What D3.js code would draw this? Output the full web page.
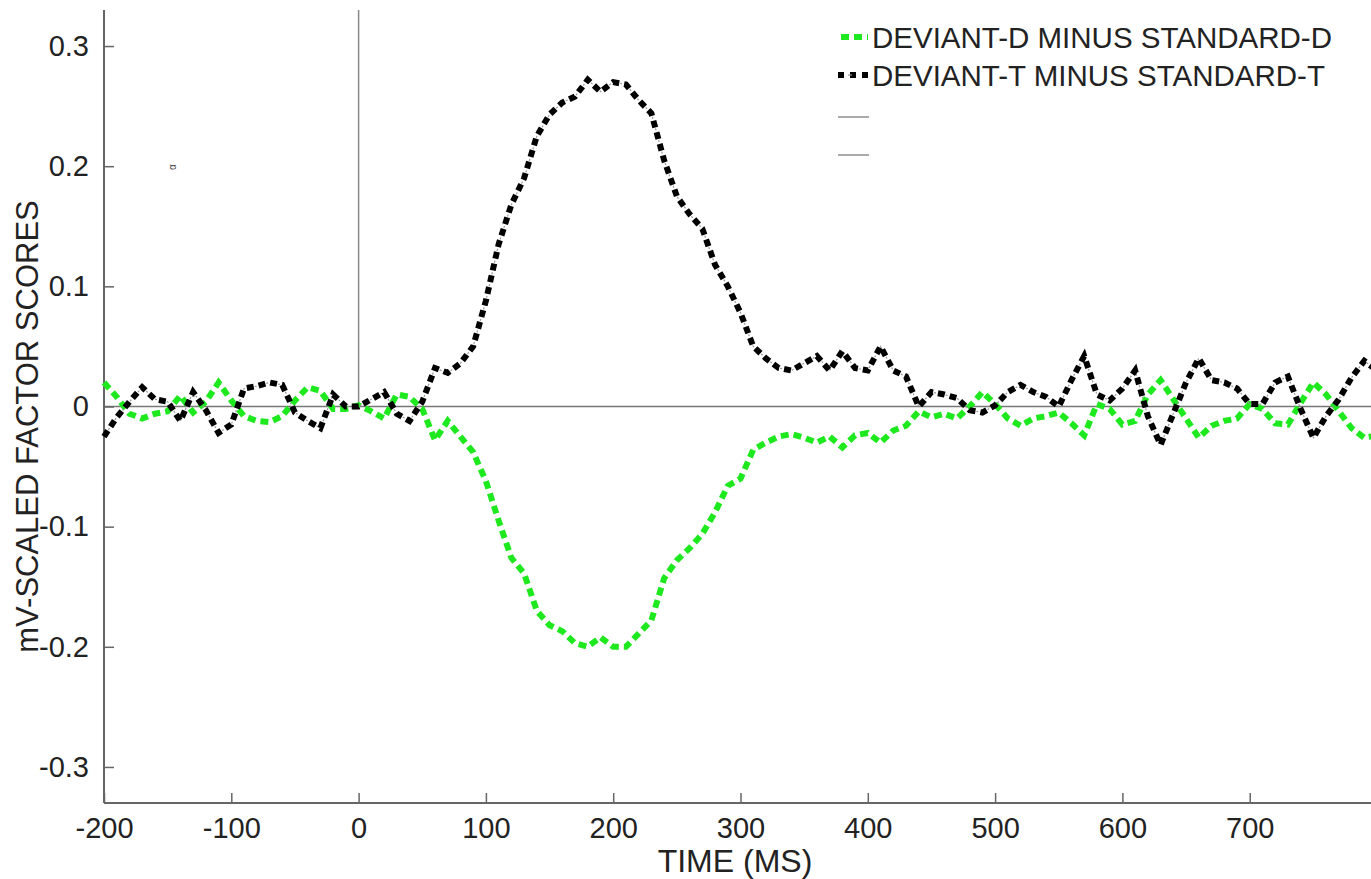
<!DOCTYPE html>
<html>
<head>
<meta charset="utf-8">
<script src="https://cdn.jsdelivr.net/npm/d3@7"></script>
<style>
  html, body { margin: 0; padding: 0; background: #fff; overflow: hidden; }
  svg { display: block; font-family: "Liberation Sans", Arial, Helvetica, sans-serif; }
</style>
</head>
<body>
<div id="chart"></div>
<script>
// ERP difference waves, sampled every 10 ms from -200 to 800 ms
const times = d3.range(-200, 801, 10);

const devDminusStdD = [
  0.020, 0.008, -0.006, -0.010, -0.006, -0.004, 0.009, -0.005, 0.004, 0.020,
  0.005, -0.008, -0.012, -0.013, -0.008, 0.005, 0.016, 0.013, -0.002, -0.002,
  0.001, -0.004, -0.010, 0.010, 0.008, -0.002, -0.028, -0.012, -0.025, -0.038,
  -0.062, -0.095, -0.126, -0.139, -0.170, -0.182, -0.187, -0.197, -0.200, -0.192,
  -0.200, -0.200, -0.189, -0.178, -0.143, -0.128, -0.118, -0.106, -0.088, -0.066,
  -0.060, -0.036, -0.030, -0.025, -0.023, -0.026, -0.030, -0.025, -0.034, -0.024,
  -0.022, -0.030, -0.020, -0.016, -0.004, -0.009, -0.006, -0.010, 0.000, 0.012,
  0.002, -0.010, -0.016, -0.010, -0.008, -0.005, -0.014, -0.024, 0.002, -0.002,
  -0.015, -0.012, 0.010, 0.022, 0.006, -0.010, -0.026, -0.016, -0.012, -0.010,
  0.002, -0.002, -0.014, -0.015, 0.003, 0.020, 0.010, -0.004, -0.018, -0.026,
  -0.024
];

const devTminusStdT = [
  -0.025, -0.009, 0.004, 0.016, 0.006, 0.004, -0.012, 0.012, -0.003, -0.022,
  -0.015, 0.015, 0.017, 0.020, 0.018, -0.005, -0.012, -0.018, 0.010, 0.000,
  0.000, 0.006, 0.012, -0.006, -0.012, 0.004, 0.032, 0.028, 0.036, 0.050,
  0.088, 0.135, 0.168, 0.190, 0.225, 0.243, 0.253, 0.258, 0.272, 0.262,
  0.270, 0.268, 0.255, 0.244, 0.205, 0.175, 0.160, 0.148, 0.118, 0.100,
  0.078, 0.050, 0.040, 0.032, 0.030, 0.036, 0.042, 0.030, 0.046, 0.032,
  0.030, 0.050, 0.030, 0.025, 0.000, 0.012, 0.010, 0.007, -0.003, -0.005,
  0.001, 0.012, 0.018, 0.012, 0.008, 0.000, 0.022, 0.042, 0.010, 0.005,
  0.015, 0.030, -0.008, -0.032, -0.006, 0.020, 0.040, 0.022, 0.020, 0.015,
  0.002, 0.002, 0.020, 0.025, -0.002, -0.026, -0.008, 0.006, 0.024, 0.038,
  0.030
];

const xTicks = [-200, -100, 0, 100, 200, 300, 400, 500, 600, 700];
const yTicks = [-0.3, -0.2, -0.1, 0, 0.1, 0.2, 0.3];
const legendLabels = ['DEVIANT-D MINUS STANDARD-D', 'DEVIANT-T MINUS STANDARD-T', '', ''];

const width = 1371, height = 879;
const mLeft = 104, mTop = 10, mBottom = 803, mRight = 1377;

const svg = d3.select('#chart').append('svg')
  .attr('width', width)
  .attr('height', height);

const x = d3.scaleLinear().domain([-200, 800]).range([mLeft, mRight]);
const y = d3.scaleLinear().domain([-0.33, 0.33]).range([mBottom, mTop]);

const axisColor = '#666';
const hyphen = s => s.replace('\u2212', '-');

// reference lines
svg.append('line')
  .attr('x1', mLeft).attr('x2', width)
  .attr('y1', y(0)).attr('y2', y(0))
  .attr('stroke', '#777').attr('stroke-width', 1.5);
svg.append('line')
  .attr('x1', x(0)).attr('x2', x(0))
  .attr('y1', mTop).attr('y2', y(0))
  .attr('stroke', '#888').attr('stroke-width', 1.5);

// axes
const gy = svg.append('g')
  .attr('transform', `translate(${mLeft},0)`)
  .call(d3.axisLeft(y).tickValues(yTicks).tickSize(-10).tickSizeOuter(0).tickPadding(15)
    .tickFormat(d => d === 0 ? '0' : hyphen(d3.format('.1f')(d))));
const gx = svg.append('g')
  .attr('transform', `translate(0,${mBottom})`)
  .call(d3.axisBottom(x).tickValues(xTicks).tickSize(-10).tickSizeOuter(0).tickPadding(14)
    .tickFormat(d => hyphen(d3.format('d')(d))));

[gy, gx].forEach(g => {
  g.select('.domain').attr('stroke', axisColor).attr('stroke-width', 2);
  g.selectAll('.tick line').attr('stroke', axisColor).attr('stroke-width', 1.5);
  g.selectAll('.tick text')
    .attr('fill', '#222')
    .style('font-size', '29px')
    .style('font-family', '"Liberation Sans", Arial, sans-serif');
});
gy.select('.domain').attr('d', `M0,${mTop}V${mBottom}`);
gx.select('.domain').attr('d', `M${mLeft},0H${width}`);

// axis titles
svg.append('text')
  .attr('transform', `translate(27,${(mTop + mBottom) / 2 + 20}) rotate(-90)`)
  .attr('text-anchor', 'middle')
  .attr('dominant-baseline', 'central')
  .style('font-size', '31px')
  .attr('fill', '#222')
  .text('mV-SCALED FACTOR SCORES');

svg.append('text')
  .attr('x', 735).attr('y', 872)
  .attr('text-anchor', 'middle')
  .style('font-size', '32px')
  .attr('fill', '#222')
  .text('TIME (MS)');

// stray marker
svg.append('text')
  .attr('transform', `translate(172,167) rotate(-90)`)
  .attr('text-anchor', 'middle')
  .attr('dominant-baseline', 'central')
  .style('font-size', '10px')
  .attr('fill', '#444')
  .text('α');

// data lines
const line = d3.line()
  .x((d, i) => x(times[i]))
  .y(d => y(d));

const plot = svg.append('g');

plot.append('path')
  .datum(devDminusStdD)
  .attr('d', line)
  .attr('fill', 'none')
  .attr('stroke', '#1ee81e')
  .attr('stroke-width', 6)
  .attr('stroke-dasharray', '8,5');

plot.append('path')
  .datum(devTminusStdT)
  .attr('d', line)
  .attr('fill', 'none')
  .attr('stroke', '#999')
  .attr('stroke-width', 1.2)
  .attr('stroke-dasharray', '2,10')
  .attr('stroke-dashoffset', -8);

plot.append('path')
  .datum(devTminusStdT)
  .attr('d', line)
  .attr('fill', 'none')
  .attr('stroke', '#000')
  .attr('stroke-width', 6)
  .attr('stroke-dasharray', '7,5');

// legend
const legend = svg.append('g').attr('transform', 'translate(838,0)');
const rowsY = [37, 75, 117, 155];

legend.append('line')
  .attr('x1', 3).attr('x2', 30).attr('y1', rowsY[0]).attr('y2', rowsY[0])
  .attr('stroke', '#1ee81e').attr('stroke-width', 6).attr('stroke-dasharray', '8,5');
legend.append('line')
  .attr('x1', 0).attr('x2', 31).attr('y1', rowsY[1]).attr('y2', rowsY[1])
  .attr('stroke', '#000').attr('stroke-width', 6).attr('stroke-dasharray', '6,6,6');
legend.append('line')
  .attr('x1', 10).attr('x2', 14).attr('y1', rowsY[1]).attr('y2', rowsY[1])
  .attr('stroke', '#999').attr('stroke-width', 1.2);
[2, 3].forEach(i => {
  legend.append('line')
    .attr('x1', 0).attr('x2', 31).attr('y1', rowsY[i]).attr('y2', rowsY[i])
    .attr('stroke', '#aaa').attr('stroke-width', 2);
});

legend.selectAll('text.lab')
  .data(legendLabels)
  .enter().append('text')
    .attr('class', 'lab')
    .attr('x', 34)
    .attr('y', (d, i) => rowsY[i])
    .attr('dominant-baseline', 'central')
    .style('font-size', '29.5px')
    .attr('fill', '#222')
    .text(d => d);
</script>
</body>
</html>
